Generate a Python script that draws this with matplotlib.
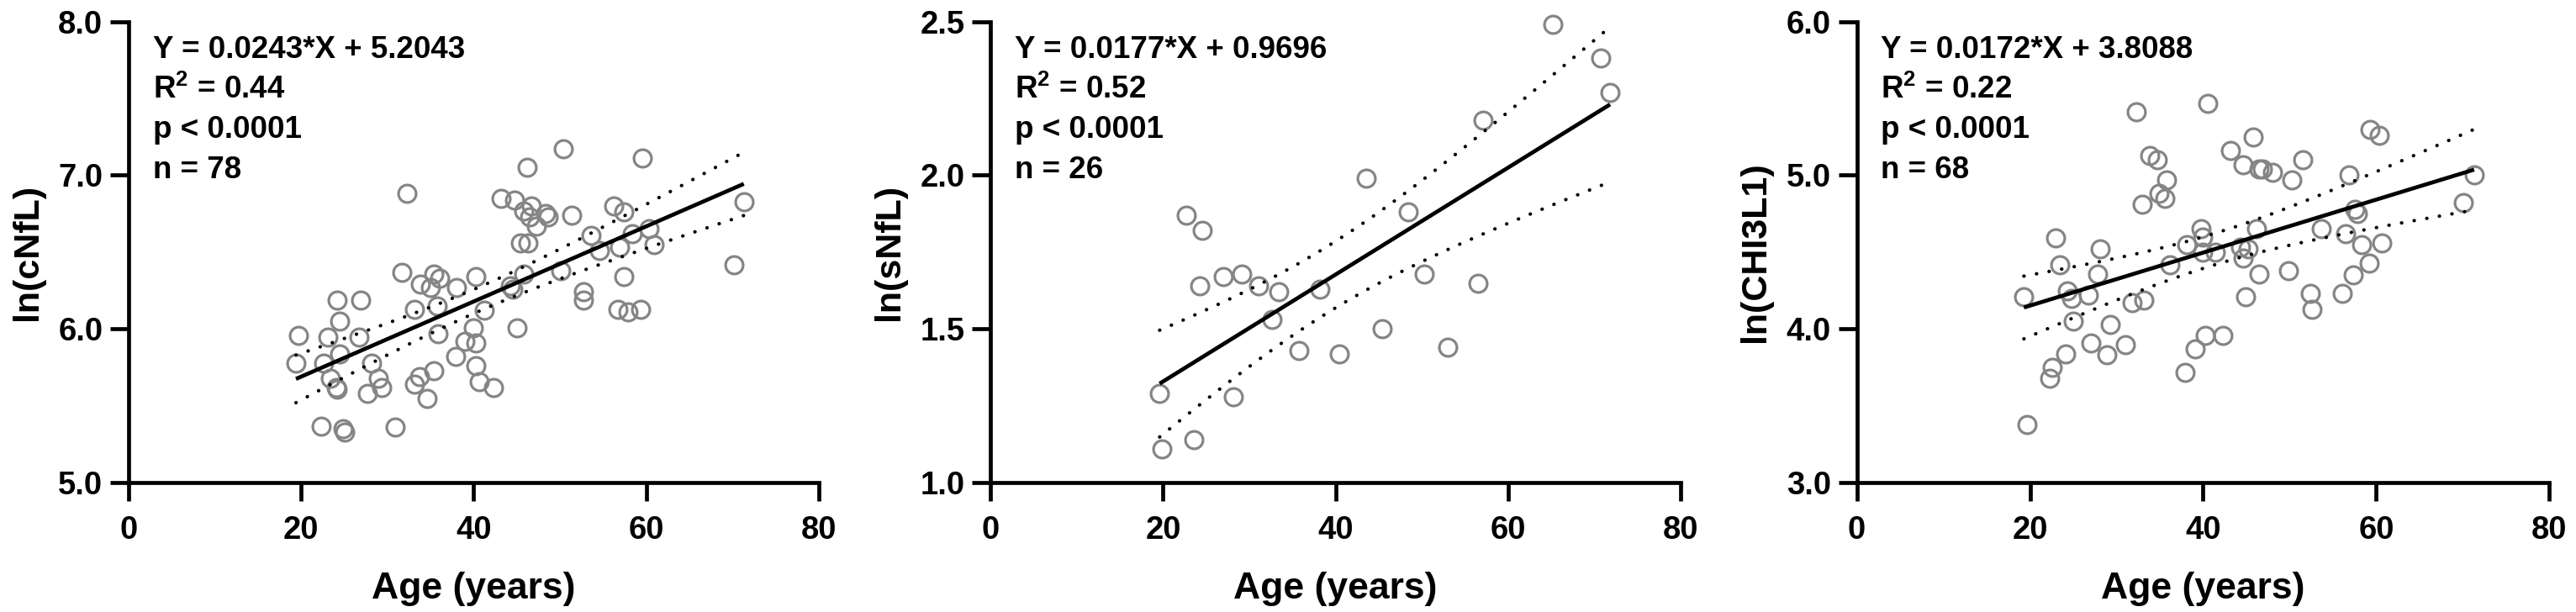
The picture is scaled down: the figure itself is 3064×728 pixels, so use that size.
import numpy as np
import matplotlib
matplotlib.use("Agg")
import matplotlib.pyplot as plt

plt.rcParams["font.family"] = ["Liberation Sans", "DejaVu Sans"]
plt.rcParams["font.weight"] = "bold"
plt.rcParams["mathtext.fontset"] = "custom"
plt.rcParams["mathtext.bf"] = "Liberation Sans:bold"
plt.rcParams["mathtext.rm"] = "Liberation Sans:bold"

# --- data ---
age_cnfl = [19.4, 19.7, 22.3, 22.6, 23.1, 23.4, 24.1, 24.2, 24.2, 24.5, 24.5, 24.9, 25.0,
            26.7, 26.9, 27.7, 28.2, 28.9, 29.3, 30.9, 31.7, 32.3, 33.1, 33.1, 33.7, 33.8,
            34.6, 35.0, 35.4, 35.4, 35.8, 35.9, 36.1, 37.9, 38.0, 39.0, 40.2, 40.0, 40.2,
            40.2, 40.6, 41.2, 42.3, 43.2, 44.5, 44.2, 44.7, 45.0, 45.4, 46.3, 45.8, 46.2,
            45.8, 46.7, 46.5, 47.3, 48.3, 48.6, 50.1, 50.4, 51.4, 52.7, 52.7, 53.6, 54.6,
            56.2, 56.9, 57.4, 56.7, 57.4, 57.9, 58.4, 59.3, 59.5, 60.3, 60.9, 70.2, 71.3]
ln_cnfl = [5.78, 5.96, 5.37, 5.78, 5.95, 5.68, 5.62, 5.61, 6.19, 6.05, 5.84, 5.35, 5.33,
           5.95, 6.19, 5.58, 5.78, 5.68, 5.62, 5.36, 6.37, 6.88, 5.64, 6.13, 5.69, 6.29,
           5.55, 6.27, 5.73, 6.36, 6.15, 5.97, 6.33, 5.82, 6.27, 5.92, 6.34, 6.01, 5.91,
           5.76, 5.66, 6.12, 5.62, 6.85, 6.26, 6.28, 6.84, 6.01, 6.56, 6.56, 6.36, 7.05,
           6.77, 6.80, 6.73, 6.67, 6.75, 6.73, 6.38, 7.17, 6.74, 6.24, 6.19, 6.61, 6.51,
           6.80, 6.53, 6.76, 6.13, 6.34, 6.11, 6.62, 6.13, 7.11, 6.65, 6.55, 6.42, 6.83]

# only 25 circles are visible for n = 26; the last value sits below the 1.0 axis floor
# (estimated from the printed fit), so it counts in the fit but is not drawn
age_snfl = [65.2, 70.7, 71.8, 57.1, 43.5, 48.4, 22.7, 24.5, 27.0, 29.1, 24.2, 31.1, 33.4,
            38.2, 50.3, 56.5, 32.6, 45.4, 35.7, 40.4, 53.0, 19.6, 28.1, 23.6, 19.9, 25.0]
ln_snfl = [2.49, 2.38, 2.27, 2.18, 1.99, 1.88, 1.87, 1.82, 1.67, 1.68, 1.64, 1.64, 1.62,
           1.63, 1.68, 1.65, 1.53, 1.50, 1.43, 1.42, 1.44, 1.29, 1.28, 1.14, 1.11, 0.98]

age_chi = [19.3, 19.7, 22.3, 22.6, 23.0, 23.4, 24.1, 24.3, 24.8, 25.0, 26.7, 27.0, 27.8,
           28.1, 28.9, 29.3, 31.0, 31.8, 32.3, 33.0, 33.2, 33.8, 34.7, 34.9, 35.6, 35.8,
           36.2, 37.9, 38.1, 39.1, 39.8, 40.0, 40.2, 40.0, 40.5, 41.4, 42.3, 43.2, 44.6,
           44.3, 44.6, 45.2, 44.9, 45.8, 46.2, 46.5, 46.8, 46.5, 48.0, 49.9, 50.2, 51.5,
           52.4, 52.6, 53.6, 56.1, 56.5, 56.8, 57.3, 57.5, 57.8, 58.3, 59.2, 59.3, 60.3,
           60.6, 70.1, 71.3]
ln_chi = [4.21, 3.38, 3.68, 3.75, 4.59, 4.42, 3.84, 4.25, 4.20, 4.05, 4.22, 3.91, 4.36,
          4.52, 3.83, 4.03, 3.90, 4.17, 5.41, 4.81, 4.19, 5.13, 5.10, 4.88, 4.85, 4.97,
          4.42, 3.72, 4.55, 3.87, 4.65, 4.60, 3.96, 4.50, 5.47, 4.50, 3.96, 5.16, 5.07,
          4.53, 4.46, 4.52, 4.21, 5.25, 4.65, 5.04, 5.04, 4.36, 5.02, 4.38, 4.97, 5.10,
          4.23, 4.13, 4.65, 4.23, 4.62, 5.00, 4.35, 4.78, 4.75, 4.55, 4.43, 5.30, 5.26,
          4.56, 4.82, 5.00]

ylabels = ["ln(cNfL)", "ln(sNfL)", "ln(CHI3L1)"]
ylims = [(5.0, 8.0), (1.0, 2.5), (3.0, 6.0)]
yticks = [[5.0, 6.0, 7.0, 8.0], [1.0, 1.5, 2.0, 2.5], [3.0, 4.0, 5.0, 6.0]]
xticks = [0, 20, 40, 60, 80]
stats = [
    ["Y = 0.0243*X + 5.2043", r"R$^{\mathbf{2}}$ = 0.44", "p < 0.0001", "n = 78"],
    ["Y = 0.0177*X + 0.9696", r"R$^{\mathbf{2}}$ = 0.52", "p < 0.0001", "n = 26"],
    ["Y = 0.0172*X + 3.8088", r"R$^{\mathbf{2}}$ = 0.22", "p < 0.0001", "n = 68"],
]

GREY = "#858585"


def t95(df):
    # Cornish-Fisher approximation of the two-sided 95% t quantile
    z = 1.959964
    return z + (z**3 + z) / (4 * df) + (5 * z**5 + 16 * z**3 + 3 * z) / (96 * df**2)


def draw_panel(ax, x, y, ylim, yt, ylabel, lines):
    x = np.asarray(x)
    y = np.asarray(y)
    shown = (y >= ylim[0]) & (y <= ylim[1])
    ax.plot(x[shown], y[shown], "o", mfc="none", mec=GREY, ms=15, mew=2.3,
            clip_on=False, zorder=2)

    slope, icpt = np.polyfit(x, y, 1)
    xs = np.linspace(x.min(), x.max(), 200)
    fit = icpt + slope * xs
    n = len(x)
    resid = y - (icpt + slope * x)
    s = np.sqrt(np.sum(resid**2) / (n - 2))
    se = s * np.sqrt(1.0 / n + (xs - x.mean())**2 / np.sum((x - x.mean())**2))
    ci = t95(n - 2) * se
    ax.plot(xs, fit, color="black", lw=3.4, zorder=3, solid_capstyle="butt")
    for band in (fit + ci, fit - ci):
        ax.plot(xs, band, color="black", lw=3.0, ls=(0, (0.05, 3.6)),
                dash_capstyle="round", zorder=3)

    ax.set_xlim(0, 80)
    ax.set_ylim(*ylim)
    ax.set_xticks(xticks)
    ax.set_yticks(yt)
    ax.set_yticklabels([f"{v:.1f}" for v in yt])
    for side in ("top", "right"):
        ax.spines[side].set_visible(False)
    for side in ("left", "bottom"):
        ax.spines[side].set_linewidth(3.4)
    ax.tick_params(axis="both", width=3.4, length=16, labelsize=27.5)
    ax.tick_params(axis="x", pad=12)
    ax.tick_params(axis="y", pad=6)
    ax.set_xlabel("Age (years)", fontsize=32, fontweight="bold", labelpad=22)
    ax.set_ylabel(ylabel, fontsize=31, fontweight="bold", labelpad=12)

    base = 0.9202
    for i, txt in enumerate(lines):
        ax.text(0.035, base - i * 0.0866, txt, transform=ax.transAxes,
                fontsize=26.5, fontweight="bold", va="baseline", ha="left")


fig = plt.figure(figsize=(30.64, 7.28), dpi=100)
lefts = [0.0499, 0.3845, 0.7208]
widths = [0.2680, 0.2680, 0.2689]
axes = [fig.add_axes([l, 0.2111, w, 0.7538]) for l, w in zip(lefts, widths)]

draw_panel(axes[0], age_cnfl, ln_cnfl, ylims[0], yticks[0], ylabels[0], stats[0])
draw_panel(axes[1], age_snfl, ln_snfl, ylims[1], yticks[1], ylabels[1], stats[1])
draw_panel(axes[2], age_chi, ln_chi, ylims[2], yticks[2], ylabels[2], stats[2])

fig.savefig("out.png", dpi=100)
